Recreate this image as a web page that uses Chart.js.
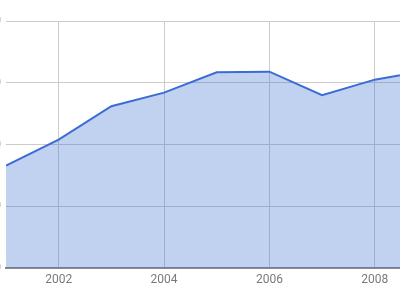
<!DOCTYPE html>
<html>
<head>
<meta charset="utf-8">
<script src="https://cdn.jsdelivr.net/npm/chart.js@4/dist/chart.umd.min.js"></script>
<style>
html,body{margin:0;padding:0;background:#fff;overflow:hidden;width:400px;height:300px;}
#wrap{position:absolute;left:-60px;top:0;width:460px;height:300px;}
canvas{display:block;}
</style>
</head>
<body>
<div id="wrap"><canvas id="c" width="460" height="300"></canvas></div>
<script>
const years = [2001, 2002, 2003, 2004, 2005, 2006, 2007, 2008, 2009];
const values = [166, 208, 262, 284, 317, 318, 280, 305, 320];
const xTicks = [2002, 2004, 2006, 2008];
const yTicks = [0, 100, 200, 300, 400];

const points = years.map((y, i) => ({x: y, y: values[i]}));

new Chart(document.getElementById('c'), {
  type: 'line',
  data: {
    datasets: [{
      data: points,
      borderColor: '#3a6cd4',
      backgroundColor: 'rgba(51,102,204,0.3)',
      borderWidth: 2,
      fill: 'origin',
      pointRadius: 0,
      tension: 0
    }]
  },
  options: {
    responsive: false,
    animation: false,
    devicePixelRatio: 1,
    layout: {padding: {top: 21, right: 0, left: 0, bottom: 0}},
    plugins: {legend: {display: false}, tooltip: {enabled: false}},
    scales: {
      x: {
        type: 'linear',
        min: 2001,
        max: 2001 + (400 - 5.5) / 52.75,
        afterBuildTicks: s => { s.ticks = xTicks.map(v => ({value: v})); },
        afterFit: s => { s.height = 32; },
        grid: {color: '#cccccc', drawTicks: false},
        border: {display: true, color: '#8a8a8a', width: 2},
        ticks: {
          callback: v => String(v),
          color: '#7a7a7a',
          font: {family: 'Roboto', size: 12},
          padding: 5,
          maxRotation: 0,
          autoSkip: false
        }
      },
      y: {
        min: yTicks[0],
        max: yTicks[yTicks.length - 1],
        afterBuildTicks: s => { s.ticks = yTicks.map(v => ({value: v})); },
        afterFit: s => { s.width = 66; },
        grid: {color: '#cccccc', drawTicks: false},
        border: {display: false},
        ticks: {
          color: '#757575',
          font: {family: 'Roboto', size: 12},
          padding: 5
        }
      }
    }
  }
});
</script>
</body>
</html>
